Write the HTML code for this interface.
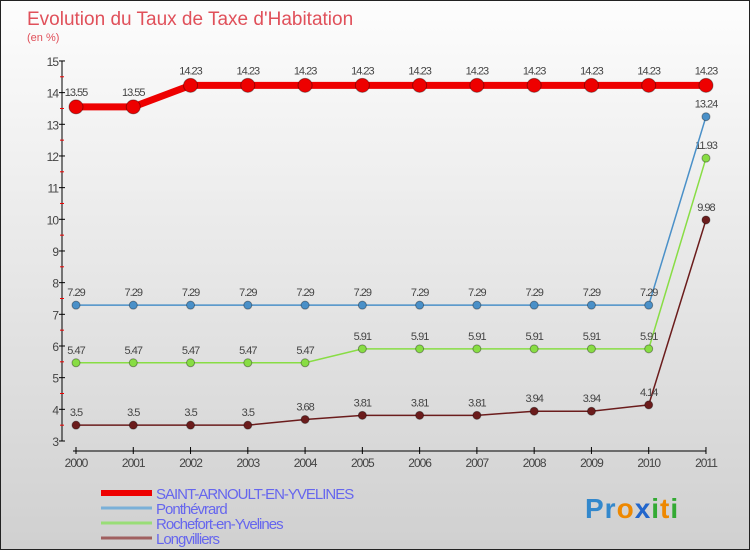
<!DOCTYPE html>
<html><head><meta charset="utf-8"><style>
body{margin:0}
#wrap{width:750px;height:550px;position:relative;overflow:hidden;background:linear-gradient(#fdfdfd,#d0d0d0);box-sizing:border-box;border:1px solid #222;font-family:"Liberation Sans",sans-serif}
svg{position:absolute;left:0;top:0}
</style></head><body>
<div id="wrap">
<svg id="c" width="750" height="550"></svg>
</div>
<script>
const years=[2000,2001,2002,2003,2004,2005,2006,2007,2008,2009,2010,2011];
const saint=[13.55,13.55,14.23,14.23,14.23,14.23,14.23,14.23,14.23,14.23,14.23,14.23];
const ponth=[7.29,7.29,7.29,7.29,7.29,7.29,7.29,7.29,7.29,7.29,7.29,13.24];
const roche=[5.47,5.47,5.47,5.47,5.47,5.91,5.91,5.91,5.91,5.91,5.91,11.93];
const longv=[3.5,3.5,3.5,3.5,3.68,3.81,3.81,3.81,3.94,3.94,4.14,9.98];
const yTicks=[3,4,5,6,7,8,9,10,11,12,13,14,15];
const NS="http://www.w3.org/2000/svg";
const svg=document.getElementById('c');
const X=i=>75+i*57.27;
const Y=v=>440-(v-3)*31.67;
function mk(t,a,p){const e=document.createElementNS(NS,t);for(const k in a)e.setAttribute(k,a[k]);(p||svg).appendChild(e);return e;}
let t=mk('text',{x:26,y:24,'font-size':19,fill:'#e0505a'});t.textContent='Evolution du Taux de Taxe d\'Habitation';


t=mk('text',{x:26,y:40,'font-size':11,fill:'#e0505a'});t.textContent='(en %)';


let a=mk('line',{x1:61,y1:60,x2:61,y2:440,stroke:'#000'});


yTicks.forEach(v=>{
  mk('line',{x1:58,x2:64,y1:Y(v),y2:Y(v),stroke:'#000'});
  if(v<15){mk('line',{x1:59,x2:63,y1:Y(v+0.5),y2:Y(v+0.5),stroke:'#e00'});}
  const l=mk('text',{x:57,y:Y(v)+5,'font-size':12,fill:'#444','text-anchor':'end','letter-spacing':'-1'});l.textContent=v;
  
  
});
a=mk('line',{x1:72,y1:450,x2:705,y2:450,stroke:'#000'});


years.forEach((y,i)=>{
  mk('line',{x1:X(i),x2:X(i),y1:446,y2:453,stroke:'#000'});
  const l=mk('text',{x:X(i),y:466,'font-size':12,fill:'#444','text-anchor':'middle','letter-spacing':'-1'});l.textContent=y;
  
  
});
function series(data,color,w,r,name){
  const g=mk('g',{});
  
  
  mk('polyline',{points:data.map((v,i)=>X(i)+','+Y(v)).join(' '),fill:'none',stroke:color,'stroke-width':w},g);
  data.forEach((v,i)=>{
    const c=mk('circle',{cx:X(i),cy:Y(v),r:r,fill:color,stroke:'rgba(0,0,0,0.35)','stroke-width':1},g);
    
    
    const l=mk('text',{x:X(i),y:Y(v)-9-(r>4?2:0),'font-size':11,fill:'#444','text-anchor':'middle','letter-spacing':'-1'},g);l.textContent=v;
    
    
  });
}
series(longv,'#6b1c1c',1.5,4,'longvilliers-series');
series(roche,'#88dd44',1.5,4,'rochefort-series');
series(ponth,'#4a90c8',1.5,4,'ponthevrard-series');
series(saint,'#ee0000',7,7,'saint-arnoult-series');
const leg=[['SAINT-ARNOULT-EN-YVELINES','#ee0000',6],['Ponthévrard','#7ab0d8',3],['Rochefort-en-Yvelines','#99dd77',3],['Longvilliers','#a06060',3]];
leg.forEach((e,i)=>{
  const y=492+i*15;
  const g=mk('g',{});
  
  
  mk('line',{x1:100,x2:151,y1:y,y2:y,stroke:e[1],'stroke-width':e[2]},g);
  const l=mk('text',{x:155,y:y+6,'font-size':15,fill:'#6666ee','letter-spacing':'-1'},g);l.textContent=e[0];
});
const logo=mk('text',{x:584,y:517,'font-size':28,'font-weight':'bold','letter-spacing':'1'});


[['Pr','#3388cc'],['o','#ee8800'],['x','#2266cc'],['i','#33aa33'],['t','#ee8800'],['i','#33aa33']].forEach(p=>{const s=mk('tspan',{fill:p[1]},logo);s.textContent=p[0];});
</script>
</body></html>
